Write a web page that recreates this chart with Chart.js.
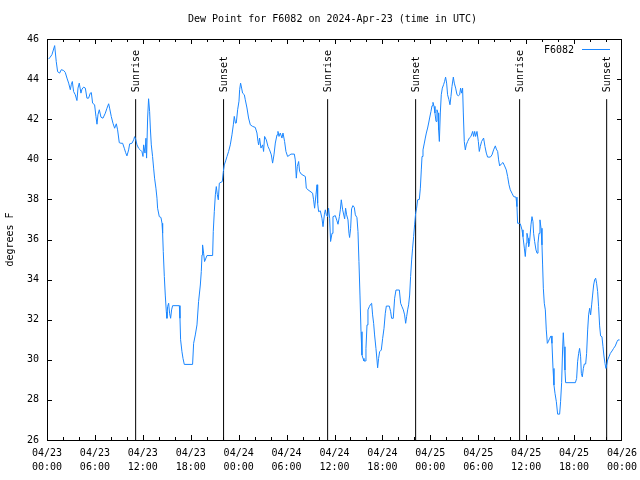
<!DOCTYPE html>
<html>
<head>
<meta charset="utf-8">
<script src="https://cdn.jsdelivr.net/npm/chart.js@4"></script>
<style>
  body { margin: 0; background: #fff; }
  canvas { display: block; }
</style>
</head>
<body>
<canvas id="dewChart" width="640" height="480"></canvas>
<script>
// hours since 2024-04-23 00:00 UTC
const hours = [
  0.20, 0.41, 0.62, 0.96, 1.16, 1.33, 1.58, 1.79, 2.08, 2.29, 2.50, 2.71, 2.92, 3.04, 3.17, 3.33,
  3.54, 3.75, 3.88, 4.04, 4.25, 4.38, 4.59, 4.80, 5.00, 5.21, 5.42, 5.55, 5.71, 5.96, 6.13, 6.26,
  6.38, 6.55, 6.76, 7.01, 7.30, 7.51, 7.72, 7.84, 8.05, 8.26, 8.47, 8.68, 8.84, 9.05, 9.26, 9.47,
  9.68, 9.85, 10.01, 10.22, 10.35, 10.64, 10.85, 10.97, 11.10, 11.27, 11.47, 11.68, 11.89,
  12.02, 12.10, 12.27, 12.39, 12.47, 12.60, 12.72, 12.85, 12.94, 13.06, 13.22, 13.35, 13.47, 13.64,
  13.77, 13.85, 14.06, 14.27, 14.40, 14.48, 14.56, 14.69, 14.81, 14.94, 15.02, 15.10, 15.23, 15.35,
  15.48, 15.60, 15.73, 16.57, 16.65, 16.73, 16.90, 17.03, 17.19, 18.23, 18.36, 18.57, 18.78, 18.98,
  19.20, 19.32, 19.41, 19.48, 19.61, 19.73, 20.03, 20.74, 20.82, 20.95, 21.08, 21.20, 21.33, 21.45,
  21.58, 21.95, 22.08, 22.20, 22.37, 22.54, 22.74, 22.95, 23.16, 23.33, 23.45, 23.60, 23.70, 23.87,
  24.04, 24.12, 24.24, 24.37, 24.49, 24.71, 24.83, 25.04, 25.24, 25.46, 25.75, 26.08, 26.29, 26.42,
  26.50, 26.62, 26.79, 27.00, 27.12, 27.25, 27.46, 27.67, 27.87, 28.09, 28.25, 28.42, 28.59, 28.80,
  28.92, 29.05, 29.21, 29.42, 29.55, 29.75, 29.92, 30.13, 30.55, 30.97, 31.09, 31.22, 31.34, 31.51,
  31.63, 31.84, 32.35, 32.47, 32.68, 33.26, 33.38, 33.51, 33.68, 33.81, 33.89, 34.01, 34.22, 34.43,
  34.56, 34.73, 34.85, 34.98, 35.14, 35.26, 35.39, 35.51, 35.69, 35.81, 36.10, 36.31, 36.44, 36.61,
  36.73, 36.85, 37.02, 37.27, 37.39, 37.52, 37.69, 37.81, 37.89, 38.02, 38.14, 38.31, 38.48, 38.61,
  38.81, 38.94, 39.06, 39.19, 39.32, 39.44, 39.57, 39.69, 39.86, 39.94, 40.07, 40.19, 40.36, 40.52,
  40.65, 40.77, 40.90, 41.02, 41.19, 41.32, 41.40, 41.52, 41.65, 41.86, 42.03, 42.20, 42.36, 42.49,
  42.86, 43.03, 43.15, 43.36, 43.53, 43.70, 44.12, 44.28, 44.45, 44.62, 44.78, 44.91, 45.03, 45.16,
  45.28, 45.41, 45.53, 45.66, 45.78, 45.91, 46.03, 46.16, 46.28, 46.41, 46.62, 46.75, 46.87, 46.96,
  47.08, 47.25, 47.37, 47.50, 47.66, 47.79, 47.91, 48.08, 48.21, 48.33, 48.46, 48.58, 48.71, 48.83,
  48.96, 49.04, 49.13, 49.25, 49.37, 49.50, 49.66, 49.79, 49.91, 50.04, 50.16, 50.33, 50.46, 50.58,
  50.71, 50.88, 51.00, 51.17, 51.34, 51.51, 51.67, 51.79, 51.92, 52.04, 52.13, 52.25, 52.38, 52.50,
  52.67, 52.88, 53.09, 53.30, 53.42, 53.55, 53.67, 53.84, 54.01, 54.13, 54.26, 54.42, 54.67, 54.84,
  55.01, 55.17, 55.51, 55.72, 55.92, 56.14, 56.26, 56.43, 56.55, 56.68, 56.89, 57.10, 57.30, 57.51,
  57.68, 57.85, 58.01, 58.22, 58.43, 58.73, 58.85, 58.93, 59.14, 59.27, 59.48, 59.60, 59.77, 59.89,
  60.02, 60.10, 60.23, 60.31, 60.43, 60.60, 60.73, 60.85, 60.93, 61.06, 61.23, 61.36, 61.48, 61.61,
  61.73, 61.86, 61.98, 62.06, 62.15, 62.27, 62.40, 62.52, 62.65, 62.77, 62.94, 63.11, 63.23, 63.36,
  63.48, 63.61, 63.78, 63.94, 64.19, 64.31, 64.44, 64.56, 64.65, 64.74, 64.86, 64.94, 66.16, 66.32,
  66.44, 66.57, 66.69, 66.82, 66.91, 67.03, 67.16, 67.28, 67.45, 67.57, 67.70, 67.82, 67.95, 68.07,
  68.20, 68.32, 68.45, 68.57, 68.70, 68.82, 68.95, 69.07, 69.20, 69.32, 69.49, 69.62, 69.74, 69.87,
  69.99, 70.08, 70.20, 70.37, 70.54, 70.75, 70.95, 71.16, 71.37, 71.50, 71.70
];

const dewPoint = [
  45.00, 45.10, 45.22, 45.67, 44.87, 44.37, 44.30, 44.47, 44.43, 44.33, 44.05, 43.80, 43.47, 43.72, 43.88, 43.38,
  43.22, 42.93, 43.55, 43.80, 43.30, 43.50, 43.60, 43.55, 43.05, 43.05, 43.30, 43.33, 42.80, 42.72, 42.13, 41.75,
  42.22, 42.47, 42.10, 42.05, 42.30, 42.55, 42.77, 42.55, 42.13, 41.80, 41.55, 41.77, 41.47, 40.83, 40.80, 40.80,
  40.55, 40.33, 40.17, 40.47, 40.77, 40.80, 40.97, 41.13, 41.00, 40.72, 40.55, 40.47, 40.38,
  40.14, 40.72, 40.31, 41.05, 40.06, 42.06, 43.02, 42.39, 41.56, 40.72, 40.14, 39.56, 39.06, 38.56,
  38.06, 37.56, 37.14, 37.10, 36.81, 36.31, 35.40, 34.15, 33.23, 32.40, 32.07, 32.65, 32.82, 32.32,
  32.07, 32.49, 32.70, 32.70, 32.07, 31.00, 30.40, 30.07, 29.77, 29.77, 30.82, 31.24, 31.74, 32.90,
  33.73, 34.40, 35.23, 35.73, 35.32, 34.90, 35.20, 35.20, 36.40, 37.39, 38.23, 38.64, 38.23, 37.98,
  38.81, 38.89, 39.39, 39.72, 39.92, 40.14, 40.39, 40.72, 41.22, 41.72, 42.14, 41.80, 41.81, 42.47,
  42.90, 43.47, 43.80, 43.55, 43.30, 43.22, 42.97, 42.56, 42.06, 41.72, 41.64, 41.59, 41.31, 40.89,
  40.72, 41.06, 40.56, 40.72, 40.39, 41.14, 40.97, 40.64, 40.47, 40.22, 39.81, 40.22, 40.81, 41.22,
  41.39, 41.14, 41.31, 41.06, 41.31, 40.89, 40.39, 40.14, 40.26, 40.26, 39.97, 39.06, 39.64, 39.89,
  39.39, 39.26, 39.14, 38.56, 38.48, 38.31, 37.98, 37.56, 38.23, 38.73, 37.81, 37.39, 37.43, 37.06,
  36.64, 37.23, 37.48, 37.23, 37.14, 37.56, 37.06, 35.90, 36.31, 37.14, 37.19, 36.93, 36.76, 37.14,
  37.48, 37.98, 37.48, 37.03, 37.56, 37.23, 36.98, 36.31, 36.10, 36.56, 37.53, 37.69, 37.60, 37.23,
  37.09, 36.40, 34.90, 33.23, 31.40, 30.24, 30.07, 29.94, 29.94, 30.57, 31.74, 32.49, 32.65, 32.77,
  32.82, 32.24, 31.82, 31.24, 30.57, 29.99, 29.60, 30.07, 30.40, 30.49, 31.07, 31.57, 32.32, 32.68,
  32.68, 32.40, 32.07, 32.07, 33.07, 33.48, 33.48, 32.82, 32.65, 32.49, 32.24, 31.82, 32.15, 32.49,
  32.74, 33.23, 34.15, 34.98, 35.57, 36.15, 36.73, 37.31, 37.56, 37.98, 38.00, 38.56, 39.47, 40.14,
  40.47, 40.81, 41.06, 41.31, 41.56, 41.81, 42.06, 42.39, 42.67, 42.84, 42.64, 42.31, 41.89, 42.47,
  42.31, 41.47, 40.89, 42.31, 43.22, 43.55, 43.72, 43.89, 44.10, 43.80, 43.22, 42.97, 42.72, 43.13,
  43.63, 44.10, 43.80, 43.55, 43.22, 43.17, 43.22, 43.55, 43.30, 43.55, 42.31, 40.89, 40.47, 40.72,
  40.89, 41.06, 41.14, 41.39, 41.14, 41.39, 41.14, 41.39, 40.89, 40.39, 40.64, 40.89, 41.06, 40.64,
  40.31, 40.11, 40.11, 40.22, 40.47, 40.67, 40.51, 40.39, 39.97, 39.67, 39.77, 39.84, 39.67, 39.47,
  39.14, 38.73, 38.48, 38.31, 38.14, 38.11, 37.64, 36.81, 36.81, 36.78, 36.48, 36.14, 35.57, 35.15,
  35.82, 36.31, 36.06, 35.65, 35.90, 36.73, 37.14, 36.89, 36.31, 35.90, 35.48, 35.32, 35.82, 36.31,
  36.98, 36.56, 35.73, 34.73, 33.57, 32.82, 32.49, 31.49, 30.82, 30.90, 31.07, 31.19, 30.82, 29.57,
  28.74, 28.33, 27.91, 27.29, 27.29, 27.91, 28.86, 30.49, 31.35, 30.65, 29.49, 28.86, 28.86, 29.07,
  29.90, 30.32, 30.57, 30.15, 29.32, 29.15, 29.57, 29.79, 29.79, 30.32, 31.49, 32.24, 32.57, 32.24,
  32.74, 33.23, 33.73, 33.98, 34.07, 33.82, 33.40, 32.65, 31.69, 31.19, 31.15, 30.65, 30.19, 29.82,
  29.57, 29.74, 29.99, 30.15, 30.32, 30.44, 30.57, 30.69, 30.90, 30.99, 30.99
];

const sunriseHours = [11.10, 35.14, 59.18];
const sunsetHours = [22.11, 46.16, 70.08];
const dayLabels = ['04/23', '04/24', '04/25', '04/26'];
const markerTop = 43;   // sun marker lines run from the axis floor up to this value

const FONT = 'DejaVu Sans Mono';
const BLUE = '#1a86ff';

const points = hours.map((h, i) => ({ x: h, y: dewPoint[i] }));

const sunEvents = [];
sunriseHours.forEach(h => sunEvents.push({ h: h, label: 'Sunrise' }));
sunsetHours.forEach(h => sunEvents.push({ h: h, label: 'Sunset' }));

const datasets = [{
  label: 'F6082',
  data: points,
  borderColor: BLUE,
  borderWidth: 1,
  pointRadius: 0,
  tension: 0,
  fill: false
}];
sunEvents.forEach(ev => {
  datasets.push({
    label: ev.label,
    data: [{ x: ev.h, y: 26 }, { x: ev.h, y: markerTop }],
    borderColor: '#000',
    borderWidth: 1,
    pointRadius: 0,
    fill: false
  });
});

// frame, inward ticks, title, sun labels and the in-plot key
const gnuplotDecor = {
  id: 'gnuplotDecor',
  afterDraw(chart) {
    const ctx = chart.ctx;
    const a = chart.chartArea;
    const xs = chart.scales.x, ys = chart.scales.y;
    ctx.save();
    ctx.strokeStyle = '#000';
    ctx.lineWidth = 1;
    ctx.strokeRect(Math.round(a.left) + 0.5, Math.round(a.top) + 0.5,
      Math.round(a.right - a.left) - 1, Math.round(a.bottom - a.top));

    ctx.beginPath();
    for (let h = 2; h < 72; h += 2) {
      const len = h % 6 === 0 ? 5 : 3;
      const px = Math.round(xs.getPixelForValue(h)) + 0.5;
      ctx.moveTo(px, a.bottom); ctx.lineTo(px, a.bottom - len);
      ctx.moveTo(px, a.top); ctx.lineTo(px, a.top + len);
    }
    for (let v = 28; v < 46; v += 2) {
      const py = Math.round(ys.getPixelForValue(v)) + 0.5;
      ctx.moveTo(a.left, py); ctx.lineTo(a.left + 5, py);
      ctx.moveTo(a.right, py); ctx.lineTo(a.right - 5, py);
    }
    ctx.stroke();

    ctx.fillStyle = '#000';
    ctx.font = '10px "' + FONT + '"';
    ctx.textAlign = 'center';
    ctx.textBaseline = 'middle';
    ctx.fillText('Dew Point for F6082 on 2024-Apr-23 (time in UTC)', (a.left + a.right) / 2 - 2, 19);

    // sun marker labels, rotated
    sunEvents.forEach(ev => {
      const px = xs.getPixelForValue(ev.h);
      const py = ys.getPixelForValue(markerTop);
      ctx.save();
      ctx.translate(px + 1, py - 7);
      ctx.rotate(-Math.PI / 2);
      ctx.textAlign = 'left';
      ctx.textBaseline = 'middle';
      ctx.fillText(ev.label, 0, 0);
      ctx.restore();
    });

    // key
    ctx.textAlign = 'right';
    ctx.fillText(chart.data.datasets[0].label, a.right - 48, a.top + 11);
    ctx.strokeStyle = BLUE;
    ctx.beginPath();
    ctx.moveTo(a.right - 40, a.top + 10.5);
    ctx.lineTo(a.right - 12, a.top + 10.5);
    ctx.stroke();
    ctx.restore();
  }
};

new Chart(document.getElementById('dewChart').getContext('2d'), {
  type: 'line',
  data: { datasets: datasets },
  options: {
    responsive: false,
    animation: false,
    devicePixelRatio: 1,
    layout: { padding: { top: 39, right: 18, left: 0, bottom: 0 } },
    plugins: {
      legend: { display: false },
      tooltip: { enabled: false },
      title: { display: false }
    },
    scales: {
      x: {
        type: 'linear',
        min: 0,
        max: 72,
        afterFit: s => { s.height = 40; s.paddingLeft = 0; s.paddingRight = 0; },
        grid: { display: false, drawTicks: false },
        border: { display: false },
        ticks: {
          stepSize: 6,
          autoSkip: false,
          maxRotation: 0,
          padding: 6,
          color: '#000',
          font: { family: FONT, size: 10, lineHeight: 1.4 },
          callback: v => [dayLabels[Math.floor(v / 24)], String(v % 24).padStart(2, '0') + ':00']
        }
      },
      y: {
        min: 26,
        max: 46,
        afterFit: s => { s.width = 47; s.paddingTop = 0; s.paddingBottom = 0; },
        grid: { display: false, drawTicks: false },
        border: { display: false },
        ticks: {
          stepSize: 2,
          padding: 8,
          color: '#000',
          font: { family: FONT, size: 10 }
        },
        title: {
          display: true,
          text: 'degrees F',
          color: '#000',
          font: { family: FONT, size: 10 },
          padding: { top: 4, bottom: 0 }
        }
      }
    }
  },
  plugins: [gnuplotDecor]
});
</script>
</body>
</html>
